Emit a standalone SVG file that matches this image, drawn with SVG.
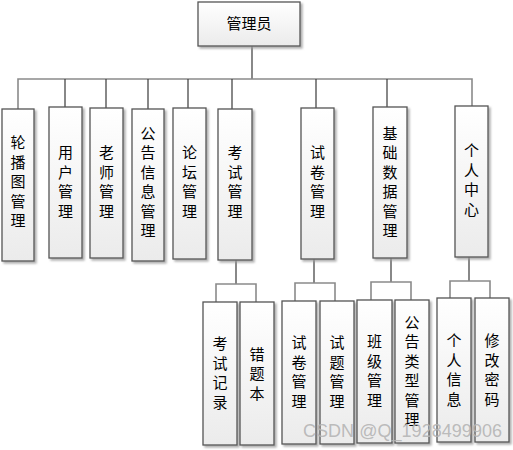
<svg xmlns="http://www.w3.org/2000/svg" width="513" height="450" viewBox="0 0 513 450">
<defs>
<linearGradient id="g" x1="0" y1="0" x2="0" y2="1">
<stop offset="0" stop-color="#ffffff"/>
<stop offset="1" stop-color="#ebebeb"/>
</linearGradient>
<filter id="sh" x="-20%" y="-20%" width="150%" height="150%">
<feDropShadow dx="2" dy="2" stdDeviation="0.8" flood-color="#9a9a9a" flood-opacity="0.8"/>
</filter>
</defs>
<style>
rect.b{fill:url(#g);stroke:#555;stroke-width:1.3;filter:url(#sh)}
text.t{font-family:"Noto Sans CJK SC","Noto Sans",sans-serif;font-size:15px;fill:#000;text-anchor:middle}
.bus{fill:none;stroke:#8a8a8a;stroke-width:1.6}
.drop{fill:none;stroke:#3a3a3a;stroke-width:1.2}
</style>
<rect width="513" height="450" fill="#fff"/>
<g id="connectors">
<path class="drop" d="M252,46 V79"/>
<path class="bus" d="M18,109 V79 H472 V106"/>
<path class="drop" d="M65,79 V107 M106,79 V108 M148,79 V109 M188,79 V108 M232,79 V109 M316,79 V108 M387,79 V107"/>
<path class="drop" d="M236,260 V284 M314,259 V283 M391,258 V282 M469,257 V281"/>
<path class="bus" d="M216,302 V284 H256 V302 M295,301 V283 H335 V301 M371,300 V282 H411 V300 M450,298 V281 H490 V298"/>
</g>
<g id="root"><rect class="b" x="198" y="2" width="102" height="44"/><text class="t" x="249" y="29">管理员</text></g>
<g id="n1"><rect class="b" x="2" y="109" width="32" height="152"/><text class="t" x="18"><tspan x="18" y="148">轮</tspan><tspan x="18" y="167.5">播</tspan><tspan x="18" y="187">图</tspan><tspan x="18" y="206.5">管</tspan><tspan x="18" y="226">理</tspan></text></g>
<g id="n2"><rect class="b" x="49" y="107" width="33" height="151"/><text class="t"><tspan x="65.5" y="158">用</tspan><tspan x="65.5" y="177.5">户</tspan><tspan x="65.5" y="197">管</tspan><tspan x="65.5" y="216.5">理</tspan></text></g>
<g id="n3"><rect class="b" x="90" y="108" width="33" height="150"/><text class="t"><tspan x="106.5" y="158">老</tspan><tspan x="106.5" y="177.5">师</tspan><tspan x="106.5" y="197">管</tspan><tspan x="106.5" y="216.5">理</tspan></text></g>
<g id="n4"><rect class="b" x="132" y="109" width="32" height="152"/><text class="t"><tspan x="148" y="138.5">公</tspan><tspan x="148" y="158">告</tspan><tspan x="148" y="177.5">信</tspan><tspan x="148" y="197">息</tspan><tspan x="148" y="216.5">管</tspan><tspan x="148" y="236">理</tspan></text></g>
<g id="n5"><rect class="b" x="173" y="108" width="33" height="151"/><text class="t"><tspan x="189.5" y="158">论</tspan><tspan x="189.5" y="177.5">坛</tspan><tspan x="189.5" y="197">管</tspan><tspan x="189.5" y="216.5">理</tspan></text></g>
<g id="n6"><rect class="b" x="218" y="109" width="34" height="151"/><text class="t"><tspan x="235" y="158">考</tspan><tspan x="235" y="177.5">试</tspan><tspan x="235" y="197">管</tspan><tspan x="235" y="216.5">理</tspan></text></g>
<g id="n7"><rect class="b" x="301" y="108" width="33" height="151"/><text class="t"><tspan x="317.5" y="158">试</tspan><tspan x="317.5" y="177.5">卷</tspan><tspan x="317.5" y="197">管</tspan><tspan x="317.5" y="216.5">理</tspan></text></g>
<g id="n8"><rect class="b" x="373" y="107" width="34" height="151"/><text class="t"><tspan x="390" y="138.5">基</tspan><tspan x="390" y="158">础</tspan><tspan x="390" y="177.5">数</tspan><tspan x="390" y="197">据</tspan><tspan x="390" y="216.5">管</tspan><tspan x="390" y="236">理</tspan></text></g>
<g id="n9"><rect class="b" x="455" y="106" width="33" height="151"/><text class="t"><tspan x="471.5" y="156">个</tspan><tspan x="471.5" y="175.5">人</tspan><tspan x="471.5" y="195">中</tspan><tspan x="471.5" y="214.5">心</tspan></text></g>
<g id="n6a"><rect class="b" x="203" y="302" width="34" height="143"/><text class="t"><tspan x="220" y="349">考</tspan><tspan x="220" y="368.5">试</tspan><tspan x="220" y="388">记</tspan><tspan x="220" y="407.5">录</tspan></text></g>
<g id="n6b"><rect class="b" x="240" y="302" width="34" height="143"/><text class="t"><tspan x="257" y="359.5">错</tspan><tspan x="257" y="379">题</tspan><tspan x="257" y="398.5">本</tspan></text></g>
<g id="n7a"><rect class="b" x="282" y="301" width="34" height="143"/><text class="t"><tspan x="299" y="348">试</tspan><tspan x="299" y="367.5">卷</tspan><tspan x="299" y="387">管</tspan><tspan x="299" y="406.5">理</tspan></text></g>
<g id="n7b"><rect class="b" x="320" y="301" width="34" height="143"/><text class="t"><tspan x="337" y="348">试</tspan><tspan x="337" y="367.5">题</tspan><tspan x="337" y="387">管</tspan><tspan x="337" y="406.5">理</tspan></text></g>
<g id="n8a"><rect class="b" x="357" y="300" width="35" height="143"/><text class="t"><tspan x="374.5" y="347">班</tspan><tspan x="374.5" y="366.5">级</tspan><tspan x="374.5" y="386">管</tspan><tspan x="374.5" y="405.5">理</tspan></text></g>
<g id="n8b"><rect class="b" x="395" y="300" width="34" height="143"/><text class="t"><tspan x="412" y="327.5">公</tspan><tspan x="412" y="347">告</tspan><tspan x="412" y="366.5">类</tspan><tspan x="412" y="386">型</tspan><tspan x="412" y="405.5">管</tspan><tspan x="412" y="425">理</tspan></text></g>
<g id="n9a"><rect class="b" x="437" y="298" width="34" height="144"/><text class="t"><tspan x="454" y="346">个</tspan><tspan x="454" y="365.5">人</tspan><tspan x="454" y="385">信</tspan><tspan x="454" y="404.5">息</tspan></text></g>
<g id="n9b"><rect class="b" x="475" y="298" width="34" height="144"/><text class="t"><tspan x="492" y="346">修</tspan><tspan x="492" y="365.5">改</tspan><tspan x="492" y="385">密</tspan><tspan x="492" y="404.5">码</tspan></text></g>
<text x="303" y="437" font-family="Liberation Sans, Arial, sans-serif" font-size="18" fill="#b4b4b4" fill-opacity="0.9" textLength="199">CSDN @Q_1928499906</text>
</svg>
